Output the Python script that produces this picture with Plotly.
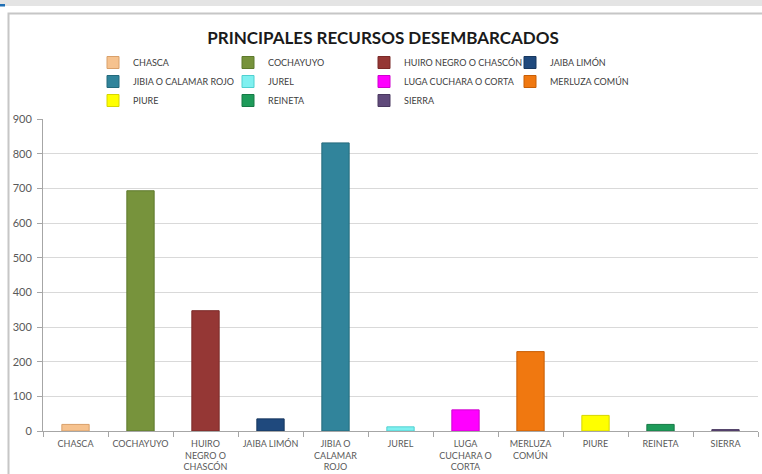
import plotly.graph_objects as go

# data
categories = ["CHASCA", "COCHAYUYO", "HUIRO NEGRO O CHASCÓN", "JAIBA LIMÓN",
              "JIBIA O CALAMAR ROJO", "JUREL", "LUGA CUCHARA O CORTA",
              "MERLUZA COMÚN", "PIURE", "REINETA", "SIERRA"]
tick_labels = ["CHASCA", "COCHAYUYO", "HUIRO<br>NEGRO O<br>CHASCÓN", "JAIBA LIMÓN",
               "JIBIA O<br>CALAMAR<br>ROJO", "JUREL", "LUGA<br>CUCHARA O<br>CORTA",
               "MERLUZA<br>COMÚN", "PIURE", "REINETA", "SIERRA"]
values = [19, 693, 347, 35, 831, 12, 61, 229, 45, 19, 4]
colors = ["#F6C28E", "#77933C", "#953735", "#1F497D", "#31849B", "#7FF0F0",
          "#FF00FF", "#F07810", "#FFFF00", "#1E9B5A", "#604A7B"]
edge_colors = ["#D9A06A", "#5E7A2C", "#7A2A28", "#17375E", "#246A7C", "#4FD0D0",
               "#D000D0", "#C85E05", "#D6D600", "#167A46", "#4A3960"]

W, H = 762, 474
L, R, T, B = 43, 4, 119, 43
FONT = "Lato"


def px2paper(x, y):
    # pixel position on the page -> paper coordinates of the plot area
    return (x - L) / (W - L - R), 1 - (y - T) / (H - T - B)


fig = go.Figure()
legend_cols = ["legend", "legend2", "legend3", "legend4"]
for i, cat in enumerate(categories):
    fig.add_trace(go.Bar(
        x=[tick_labels[i]], y=[values[i]], name=cat,
        marker=dict(color=colors[i], line=dict(color=edge_colors[i], width=1)),
        width=0.42,
        legend=legend_cols[i % 4],
    ))

# legend columns (text start x in pixels)
col_text_x = [133, 268, 404, 550]
legend_common = dict(
    xanchor="left", yanchor="top",
    orientation="v", bgcolor="rgba(0,0,0,0)", borderwidth=0,
    font=dict(family=FONT, size=9, color="#404040"),
    itemclick=False, traceorder="normal",
)
legends = {}
for k, name in enumerate(legend_cols):
    lx, ly = px2paper(col_text_x[k] - 40, 48)
    legends[name] = dict(legend_common, x=lx, y=ly)

# page decorations: grey band on top, chart frame
x0, y0 = px2paper(0, 0)
x1, y1 = px2paper(W, 6)
shapes = [dict(type="rect", xref="paper", yref="paper", x0=x0, x1=x1, y0=y1, y1=y0 + 0.1,
               fillcolor="#E4E4E4", line=dict(width=0), layer="below")]
bx0, by0 = px2paper(0, 4)
bx1, by1 = px2paper(5, 6.5)
shapes.append(dict(type="rect", xref="paper", yref="paper", x0=bx0, x1=bx1, y0=by1, y1=by0,
                   fillcolor="#1F6FB5", line=dict(width=0)))
fx0, fy0 = px2paper(8.5, 13.5)
fx1, fy1 = px2paper(W + 20, H + 20)
shapes.append(dict(type="rect", xref="paper", yref="paper", x0=fx0, x1=fx1, y0=fy1, y1=fy0,
                   line=dict(color="#C6C6C6", width=2), fillcolor="rgba(0,0,0,0)", layer="below"))

fig.update_layout(
    width=W, height=H,
    margin=dict(l=L, r=R, t=T, b=B, autoexpand=False),
    paper_bgcolor="white", plot_bgcolor="white",
    barmode="overlay",
    font=dict(family=FONT, color="#595959"),
    title=dict(text="<b>PRINCIPALES RECURSOS DESEMBARCADOS</b>",
               x=383 / W, xanchor="center",
               y=1 - 38 / H, yanchor="middle",
               font=dict(family=FONT, size=17, color="#1A1A1A")),
    shapes=shapes,
    **legends,
)

fig.update_xaxes(
    type="category", tickson="boundaries", ticks="outside", ticklen=5,
    tickcolor="#A6A6A6", showline=True, linecolor="#A6A6A6", linewidth=1,
    showgrid=False, tickangle=0, automargin=False, ticklabelstandoff=4,
    tickfont=dict(family=FONT, size=9, color="#595959"),
)
fig.update_yaxes(
    range=[0, 900], dtick=100, ticks="outside", ticklen=5, tickcolor="#A6A6A6",
    showline=True, linecolor="#A6A6A6", linewidth=1, automargin=False,
    ticklabelstandoff=3,
    showgrid=True, gridcolor="#D9D9D9", gridwidth=1, zeroline=False,
    tickfont=dict(family=FONT, size=11, color="#595959"),
)

# the page body has a default margin; drop it so the chart sits at the corner
fig.write_html("out.html", config={"displayModeBar": False},
               post_script="document.body.style.margin='0';")
